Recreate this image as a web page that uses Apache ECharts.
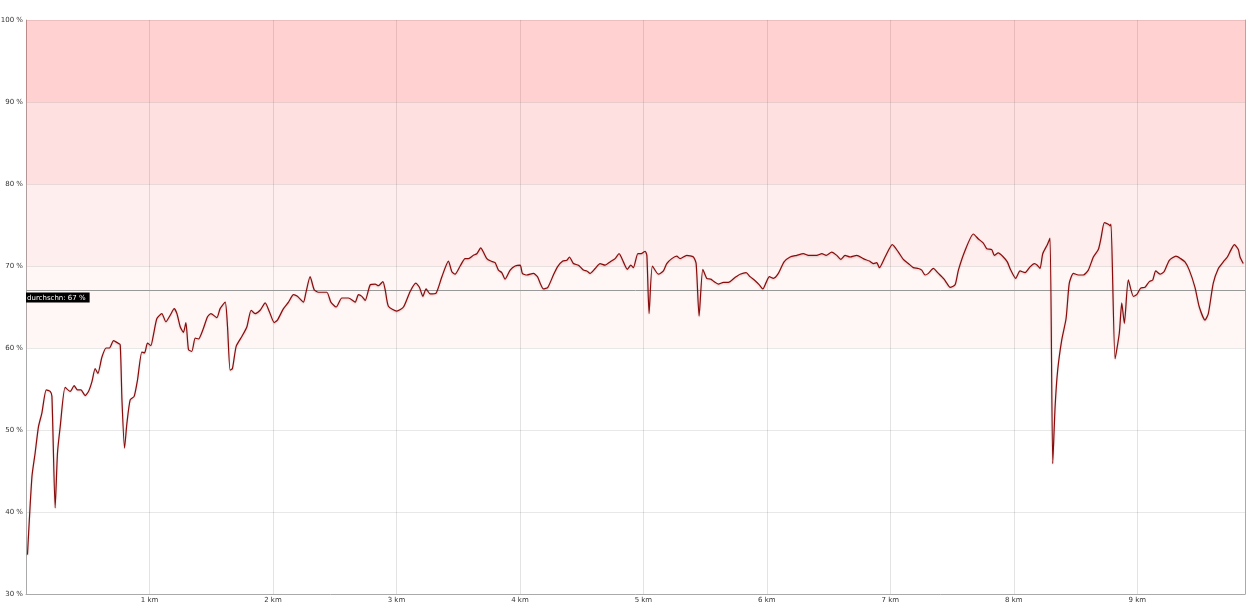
<!DOCTYPE html>
<html>
<head>
<meta charset="utf-8">
<script src="https://cdn.jsdelivr.net/npm/echarts@6/dist/echarts.min.js"></script>
<style>html,body{margin:0;padding:0;background:#fff}#c{width:1256px;height:605px}</style>
</head>
<body>
<div id="c"></div>
<script>
// distance in km
const dist = [0.012,0.048,0.074,0.101,0.129,0.164,0.196,0.210,0.236,0.255,0.277,0.317,0.358,0.390,0.417,0.445,0.479,0.506,0.534,0.560,0.582,0.615,0.649,0.676,0.709,0.744,0.763,0.777,0.798,0.817,0.844,0.876,0.903,0.938,0.960,0.984,1.011,1.032,1.060,1.100,1.133,1.168,1.200,1.222,1.249,1.275,1.295,1.316,1.343,1.370,1.397,1.432,1.470,1.497,1.546,1.572,1.613,1.632,1.653,1.672,1.702,1.748,1.789,1.823,1.856,1.896,1.937,1.972,2.010,2.036,2.085,2.126,2.166,2.198,2.247,2.266,2.301,2.334,2.368,2.436,2.469,2.512,2.558,2.611,2.666,2.692,2.720,2.747,2.787,2.828,2.854,2.890,2.909,2.935,3.003,3.057,3.111,3.157,3.186,3.214,3.240,3.273,3.321,3.368,3.421,3.449,3.475,3.516,3.556,3.583,3.623,3.651,3.683,3.704,3.732,3.764,3.799,3.826,3.853,3.880,3.921,3.961,4.002,4.020,4.056,4.109,4.142,4.164,4.190,4.226,4.271,4.304,4.347,4.380,4.401,4.433,4.474,4.514,4.542,4.568,4.609,4.649,4.690,4.730,4.771,4.803,4.838,4.870,4.898,4.919,4.955,4.981,5.014,5.028,5.046,5.073,5.121,5.162,5.189,5.230,5.270,5.297,5.351,5.405,5.427,5.451,5.481,5.513,5.546,5.572,5.607,5.648,5.688,5.742,5.783,5.832,5.864,5.905,5.939,5.967,5.994,6.020,6.053,6.093,6.139,6.188,6.242,6.296,6.336,6.404,6.445,6.480,6.525,6.566,6.598,6.633,6.674,6.728,6.781,6.830,6.862,6.890,6.911,6.957,7.016,7.065,7.105,7.146,7.186,7.227,7.254,7.281,7.308,7.348,7.389,7.435,7.457,7.484,7.524,7.551,7.605,7.672,7.713,7.753,7.781,7.821,7.842,7.874,7.915,7.947,7.975,8.015,8.050,8.091,8.131,8.166,8.190,8.212,8.234,8.271,8.293,8.315,8.334,8.355,8.388,8.423,8.449,8.482,8.522,8.563,8.603,8.644,8.684,8.706,8.733,8.765,8.779,8.787,8.820,8.854,8.874,8.895,8.927,8.968,8.995,9.027,9.062,9.097,9.125,9.149,9.184,9.216,9.259,9.313,9.351,9.386,9.421,9.467,9.502,9.548,9.575,9.615,9.656,9.696,9.729,9.756,9.786,9.818,9.832,9.858];
// percent values
const pct = [34.8,44.3,47.2,50.4,52.1,54.9,54.7,54.1,40.5,47.2,50.4,55.2,54.7,55.4,54.9,54.9,54.2,54.7,55.9,57.5,56.9,58.9,60.0,60.0,60.9,60.6,60.4,53.7,47.8,50.8,53.7,54.1,56.1,59.5,59.4,60.6,60.3,61.6,63.6,64.2,63.2,64.0,64.8,64.2,62.6,61.9,63.1,59.8,59.6,61.2,61.1,62.2,63.8,64.2,63.7,64.8,65.6,62.6,57.3,57.5,60.2,61.4,62.6,64.6,64.2,64.6,65.5,64.4,63.1,63.4,64.8,65.6,66.5,66.3,65.6,66.7,68.7,67.1,66.8,66.8,65.6,65.0,66.1,66.1,65.6,66.5,66.3,65.8,67.7,67.8,67.6,68.1,67.1,65.1,64.5,65.0,66.9,67.9,67.4,66.3,67.2,66.6,66.7,68.7,70.6,69.3,69.0,70.0,70.9,70.9,71.3,71.5,72.2,71.7,70.9,70.6,70.4,69.5,69.2,68.4,69.5,70.0,70.1,69.1,68.9,69.1,68.7,67.9,67.2,67.4,68.9,69.9,70.6,70.7,71.1,70.3,70.1,69.5,69.4,69.1,69.7,70.3,70.1,70.5,70.9,71.5,70.5,69.6,70.1,69.8,71.5,71.5,71.8,71.3,64.2,70.0,69.0,69.4,70.3,70.9,71.2,70.9,71.3,71.1,70.3,63.9,69.6,68.5,68.4,68.1,67.8,68.0,68.0,68.6,69.0,69.2,68.7,68.2,67.7,67.2,68.0,68.7,68.5,69.1,70.5,71.1,71.3,71.5,71.3,71.3,71.5,71.3,71.7,71.3,70.8,71.3,71.1,71.3,70.9,70.6,70.3,70.4,69.8,71.1,72.6,71.7,70.8,70.3,69.8,69.7,69.5,68.9,69.1,69.7,69.1,68.4,67.9,67.4,67.7,69.5,71.9,73.9,73.3,72.8,72.1,72.0,71.3,71.6,71.1,70.5,69.5,68.5,69.4,69.2,69.9,70.3,70.1,69.7,71.5,72.6,73.4,45.9,52.8,57.3,61.0,63.6,67.9,69.1,68.9,68.9,69.5,71.1,72.0,73.4,75.3,75.1,74.9,75.1,58.7,61.8,65.5,63.0,68.3,66.3,66.5,67.3,67.4,68.1,68.3,69.4,69.0,69.3,70.7,71.2,70.9,70.5,69.5,67.4,65.0,63.4,64.2,67.9,69.7,70.5,71.1,71.9,72.6,72.0,71.1,70.3];
const average = 67;
const avgLabel = 'durchschn: 67 %';
// zone bands [from, to]
const bands = [[90, 100], [80, 90], [70, 80], [60, 70]];
const bandColors = ['rgba(255,0,0,0.18)', 'rgba(255,0,0,0.12)', 'rgba(255,0,0,0.067)', 'rgba(255,0,0,0.035)'];
const yTicks = [30, 40, 50, 60, 70, 80, 90, 100];

const chart = echarts.init(document.getElementById('c'), null, {renderer: 'canvas'});
const font = 'DejaVu Sans';
chart.setOption({
  animation: false,
  backgroundColor: '#fff',
  grid: {left: 26, right: 11, top: 20, bottom: 11, containLabel: false, outerBoundsMode: 'none'},
  xAxis: {
    type: 'value', min: 0, max: 9.872, interval: 1,
    axisLine: {show: true, lineStyle: {color: '#aaa', width: 1}},
    axisTick: {show: false},
    axisLabel: {fontFamily: font, fontSize: 7, color: '#333', margin: 3, showMinLabel: false, showMaxLabel: false,
      formatter: v => (v === 0 ? '' : v + ' km')},
    splitLine: {show: true, lineStyle: {color: 'rgba(0,0,0,0.11)', width: 1}}
  },
  yAxis: [{
    type: 'value', min: 30, max: 100, interval: 10,
    axisLine: {show: true, lineStyle: {color: '#aaa', width: 1}},
    axisTick: {show: false},
    axisLabel: {fontFamily: font, fontSize: 7, color: '#333', margin: 3,
      formatter: v => (yTicks.includes(v) ? v + ' %' : '')},
    splitLine: {show: true, lineStyle: {color: 'rgba(0,0,0,0.09)', width: 1}}
  }, {
    type: 'value', min: 30, max: 100, position: 'right',
    axisLine: {show: true, lineStyle: {color: '#aaa', width: 1}},
    axisTick: {show: false}, axisLabel: {show: false}, splitLine: {show: false}
  }],
  series: [{
    type: 'line',
    data: dist.map((d, i) => [d, pct[i]]),
    showSymbol: false,
    smooth: 0.2,
    lineStyle: {color: '#8b0a0a', width: 1.2, shadowColor: 'rgba(0,0,0,0.2)', shadowBlur: 2, shadowOffsetY: 1},
    z: 5,
    markArea: {
      silent: true,
      z: 1,
      data: bands.map((b, i) => [{yAxis: b[0], itemStyle: {color: bandColors[i]}}, {yAxis: b[1]}])
    },
    markLine: {
      silent: true,
      symbol: 'none',
      lineStyle: {color: '#999', width: 1, type: 'solid'},
      data: [{yAxis: average}],
      label: {
        show: true, position: 'insideStartBottom', distance: [0, 2],
        formatter: avgLabel, fontFamily: font, fontSize: 7, color: '#fff',
        backgroundColor: '#000', padding: [2, 4, 1, 1]
      }
    }
  }]
});
</script>
</body>
</html>
